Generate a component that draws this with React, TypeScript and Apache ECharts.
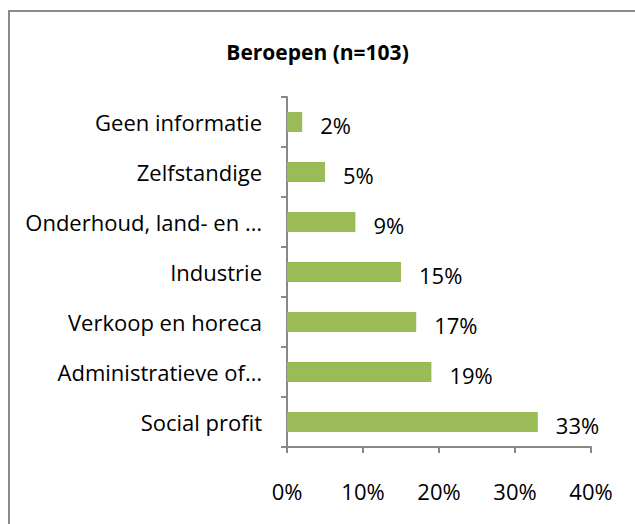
import React, { useEffect, useRef } from "react";
import * as echarts from "echarts";

const titleText = "Beroepen (n=103)";
const categories = [
  "Social profit",
  "Administratieve of…",
  "Verkoop en horeca",
  "Industrie",
  "Onderhoud, land- en …",
  "Zelfstandige",
  "Geen informatie",
];
const values = [33, 19, 17, 15, 9, 5, 2];
const xTicks = [0, 10, 20, 30, 40];

const FONT = "'Open Sans', sans-serif";

export default function App() {
  const ref = useRef<HTMLDivElement>(null);
  useEffect(() => {
    if (!ref.current) return;
    const chart = echarts.init(ref.current, null, { renderer: "svg" });
    chart.setOption({
      animation: false,
      backgroundColor: "#ffffff",
      graphic: [
        {
          type: "rect",
          shape: { x: 9, y: 11, width: 700, height: 600 },
          style: { fill: "none", stroke: "#8a8a8a", lineWidth: 2 },
          silent: true,
        },
      ],
      title: {
        text: titleText,
        left: "center",
        top: 36,
        textStyle: { fontFamily: FONT, fontSize: 21, fontWeight: "bold", color: "#000" },
      },
      grid: { left: 287, right: 44, top: 97, bottom: 77, containLabel: false },
      xAxis: {
        type: "value",
        min: xTicks[0],
        max: xTicks[xTicks.length - 1],
        interval: 10,
        axisLine: { show: true, lineStyle: { color: "#888", width: 2 } },
        axisTick: { show: true, length: 6, lineStyle: { color: "#888", width: 2 } },
        splitLine: { show: false },
        axisLabel: {
          formatter: "{value}%",
          margin: 33,
          fontFamily: FONT,
          fontSize: 22,
          color: "#000",
        },
      },
      yAxis: {
        type: "category",
        data: categories,
        axisLine: { show: true, lineStyle: { color: "#888", width: 2 } },
        axisTick: { show: true, length: 6, lineStyle: { color: "#888", width: 2 } },
        axisLabel: { margin: 25, fontFamily: FONT, fontSize: 22, color: "#000" },
      },
      series: [
        {
          type: "bar",
          data: values,
          barWidth: 20,
          itemStyle: { color: "#9BBB59" },
          label: {
            show: true,
            position: "right",
            distance: 18,
            offset: [0, 3],
            formatter: "{c}%",
            fontFamily: FONT,
            fontSize: 22,
            color: "#000",
          },
        },
      ],
    });
    return () => chart.dispose();
  }, []);
  return (
    <div
      ref={ref}
      style={{ position: "fixed", left: 0, top: 0, width: 635, height: 524 }}
    />
  );
}
